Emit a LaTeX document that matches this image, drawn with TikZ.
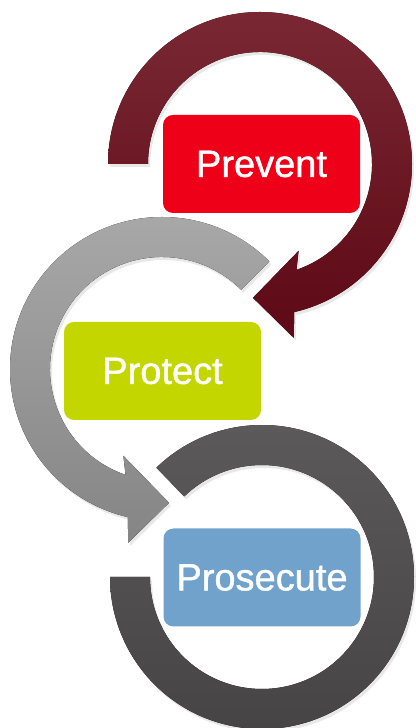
\documentclass[tikz,border=0pt]{standalone}
\usepackage{fontspec}
\setmainfont{Liberation Sans}
\newfontfamily\stagefont[FakeBold=1.2]{Liberation Sans}
\usetikzlibrary{shadows}
\definecolor{preventtop}{HTML}{792833}
\definecolor{preventbot}{HTML}{5E0915}
\definecolor{protecttop}{HTML}{A9A9A9}
\definecolor{protectbot}{HTML}{858585}
\definecolor{prosectop}{HTML}{5C5A5B}
\definecolor{prosecbot}{HTML}{454344}
\definecolor{preventred}{HTML}{EF0019}
\definecolor{protectlime}{HTML}{C4D600}
\definecolor{prosecblue}{HTML}{70A2CB}

\begin{document}
\begin{tikzpicture}[x=1pt, y=1pt,
    stage/.style={rounded corners=10pt, fill=#1, minimum width=197pt, minimum height=98pt, text=white, font=\stagefont\fontsize{38}{40}\selectfont},
    ring/.style={top color=#1top, bottom color=#1bot, drop shadow={shadow xshift=2pt, shadow yshift=-3pt, opacity=0.18}}
]
\useasboundingbox (0,0) rectangle (415,728);

% rings
\begin{scope}[shift={(260,564)}]
\fill[ring=prevent] (180:152) arc[start angle=180, end angle=-77, radius=152] -- (-79:177) -- (-93:134) -- (-66:95) -- (-71:112) arc[start angle=-71, end angle=180, radius=112] -- cycle;
\end{scope}
\begin{scope}[shift={(162,359)}]
\fill[ring=protect] (45:152) arc[start angle=45, end angle=257, radius=152] -- (259:177) -- (273:134) -- (246:95) -- (251:112) arc[start angle=251, end angle=45, radius=112] -- cycle;
\end{scope}
\begin{scope}[shift={(262,151)}]
\fill[ring=prosec] (134:152) arc[start angle=134, end angle=-180, radius=152] -- (180:112) arc[start angle=-180, end angle=134, radius=112] -- cycle;
\end{scope}

% boxes
\node[stage=preventred] (prevent) at (261.5,564) {Prevent};
\node[stage=protectlime] (protect) at (162.5,357) {Protect};
\node[stage=prosecblue] (prosecute) at (262,150.5) {Prosecute};
\end{tikzpicture}
\end{document}
